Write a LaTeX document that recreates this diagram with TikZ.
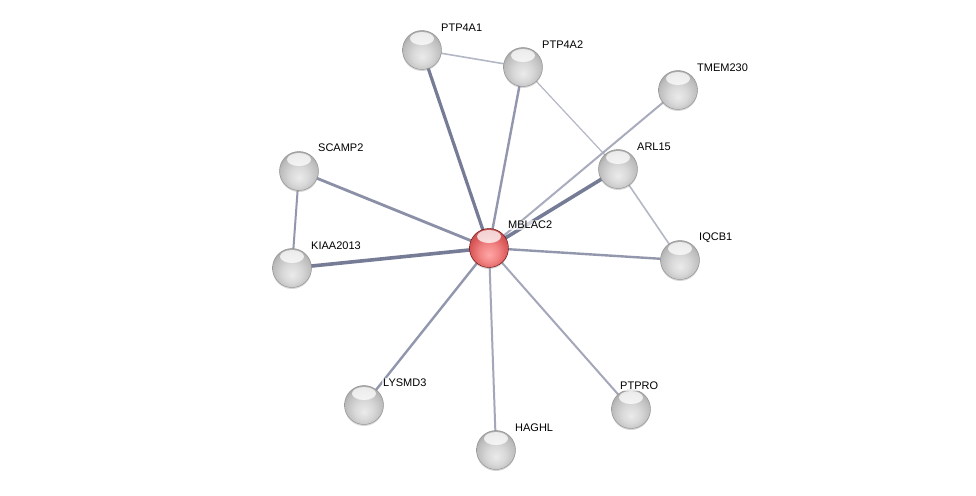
\documentclass[tikz,border=0pt]{standalone}
\usepackage{fontspec}
\setmainfont{Liberation Sans}
\usetikzlibrary{shadows}
\definecolor{edgedark}{HTML}{767C96}
\definecolor{edgemid}{HTML}{9397AD}
\definecolor{edgelight}{HTML}{B4B7C6}
\pgfdeclareradialshading{graysphere}{\pgfpoint{0bp}{-9bp}}{%
  color(0bp)=(white!92!black); color(12bp)=(white!85!black); color(24bp)=(white!74!black);
  color(31bp)=(white!62!black); color(34bp)=(white!45!black); color(50bp)=(white!45!black)}
\pgfdeclareradialshading{redsphere}{\pgfpoint{0bp}{-9bp}}{%
  color(0bp)=(red!35!white); color(12bp)=(red!45!white!95!black); color(24bp)=(red!60!white!85!black);
  color(31bp)=(red!60!black!70!white); color(34bp)=(red!50!black); color(50bp)=(red!50!black)}
\begin{document}
\begin{tikzpicture}[x=1pt,y=-1pt,
  hilite/.style={path picture={\fill[white,opacity=0.75] ([yshift=-8pt]path picture bounding box.north) ellipse [x radius=12pt,y radius=6.5pt];}},
  prot/.style={circle,minimum size=39pt,inner sep=0pt,shading=graysphere,hilite,
    draw=black!45,line width=0.4pt,
    drop shadow={shadow xshift=0pt,shadow yshift=-1.5pt,opacity=0.3}},
  center/.style={prot,shading=redsphere,draw=red!40!black},
  lab/.style={font=\fontsize{11}{12}\selectfont,anchor=west,inner sep=1pt,fill=white,fill opacity=0.7,text opacity=1},
  edark/.style={draw=edgedark,line width=3.2pt},
  emid/.style={draw=edgemid,line width=2.4pt},
  elight/.style={draw=edgelight,line width=1.6pt}]
\useasboundingbox (0,0) rectangle (976,495);
\fill[white] (0,0) rectangle (976,495);
% node centres
\coordinate (cPTP4A1) at (422,50);
\coordinate (cPTP4A2) at (523,67);
\coordinate (cTMEM230) at (678,90);
\coordinate (cARL15) at (618,169);
\coordinate (cSCAMP2) at (299,171);
\coordinate (cKIAA2013) at (292,268);
\coordinate (cMBLAC2) at (489,248);
\coordinate (cIQCB1) at (680,260);
\coordinate (cLYSMD3) at (364,405);
\coordinate (cHAGHL) at (496,450);
\coordinate (cPTPRO) at (631,409);
% edges
\draw[elight] (cPTP4A1) -- (cPTP4A2);
\draw[elight,line width=1.2pt] (cPTP4A2) -- (cARL15);
\draw[elight] (cARL15) -- (cIQCB1);
\draw[emid,line width=2pt] (cSCAMP2) -- (cKIAA2013);
\draw[edark] (cMBLAC2) -- (cPTP4A1);
\draw[emid] (cMBLAC2) -- (cPTP4A2);
\draw[elight,line width=2pt,draw=edgemid!80!white] (cMBLAC2) -- (cTMEM230);
\draw[edark,line width=3.6pt] (cMBLAC2) -- (cARL15);
\draw[emid,line width=2.8pt,draw=edgedark!85!white] (cMBLAC2) -- (cSCAMP2);
\draw[edark,line width=3.6pt] (cMBLAC2) -- (cKIAA2013);
\draw[emid] (cMBLAC2) -- (cIQCB1);
\draw[emid] (cMBLAC2) -- (cLYSMD3);
\draw[emid,line width=2pt,draw=edgemid!85!white] (cMBLAC2) -- (cHAGHL);
\draw[emid,line width=2pt,draw=edgemid!85!white] (cMBLAC2) -- (cPTPRO);
% spheres
\node[prot] (PTP4A1) at (cPTP4A1) {};
\node[prot] (PTP4A2) at (cPTP4A2) {};
\node[prot] (TMEM230) at (cTMEM230) {};
\node[prot] (ARL15) at (cARL15) {};
\node[prot] (SCAMP2) at (cSCAMP2) {};
\node[prot] (KIAA2013) at (cKIAA2013) {};
\node[center] (MBLAC2) at (cMBLAC2) {};
\node[prot] (IQCB1) at (cIQCB1) {};
\node[prot] (LYSMD3) at (cLYSMD3) {};
\node[prot] (HAGHL) at (cHAGHL) {};
\node[prot] (PTPRO) at (cPTPRO) {};
% labels
\node[lab] (lPTP4A1) at ([shift={(18,-22)}]cPTP4A1) {PTP4A1};
\node[lab] (lPTP4A2) at ([shift={(18,-22)}]cPTP4A2) {PTP4A2};
\node[lab] (lTMEM230) at ([shift={(18,-22)}]cTMEM230) {TMEM230};
\node[lab] (lARL15) at ([shift={(18,-22)}]cARL15) {ARL15};
\node[lab] (lSCAMP2) at ([shift={(18,-23)}]cSCAMP2) {SCAMP2};
\node[lab] (lKIAA2013) at ([shift={(18,-22)}]cKIAA2013) {KIAA2013};
\node[lab] (lMBLAC2) at ([shift={(18,-23)}]cMBLAC2) {MBLAC2};
\node[lab] (lIQCB1) at ([shift={(18,-22)}]cIQCB1) {IQCB1};
\node[lab] (lLYSMD3) at ([shift={(18,-22)}]cLYSMD3) {LYSMD3};
\node[lab] (lHAGHL) at ([shift={(18,-22)}]cHAGHL) {HAGHL};
\node[lab] (lPTPRO) at ([shift={(-12,-23)}]cPTPRO) {PTPRO};
\end{tikzpicture}
\end{document}
